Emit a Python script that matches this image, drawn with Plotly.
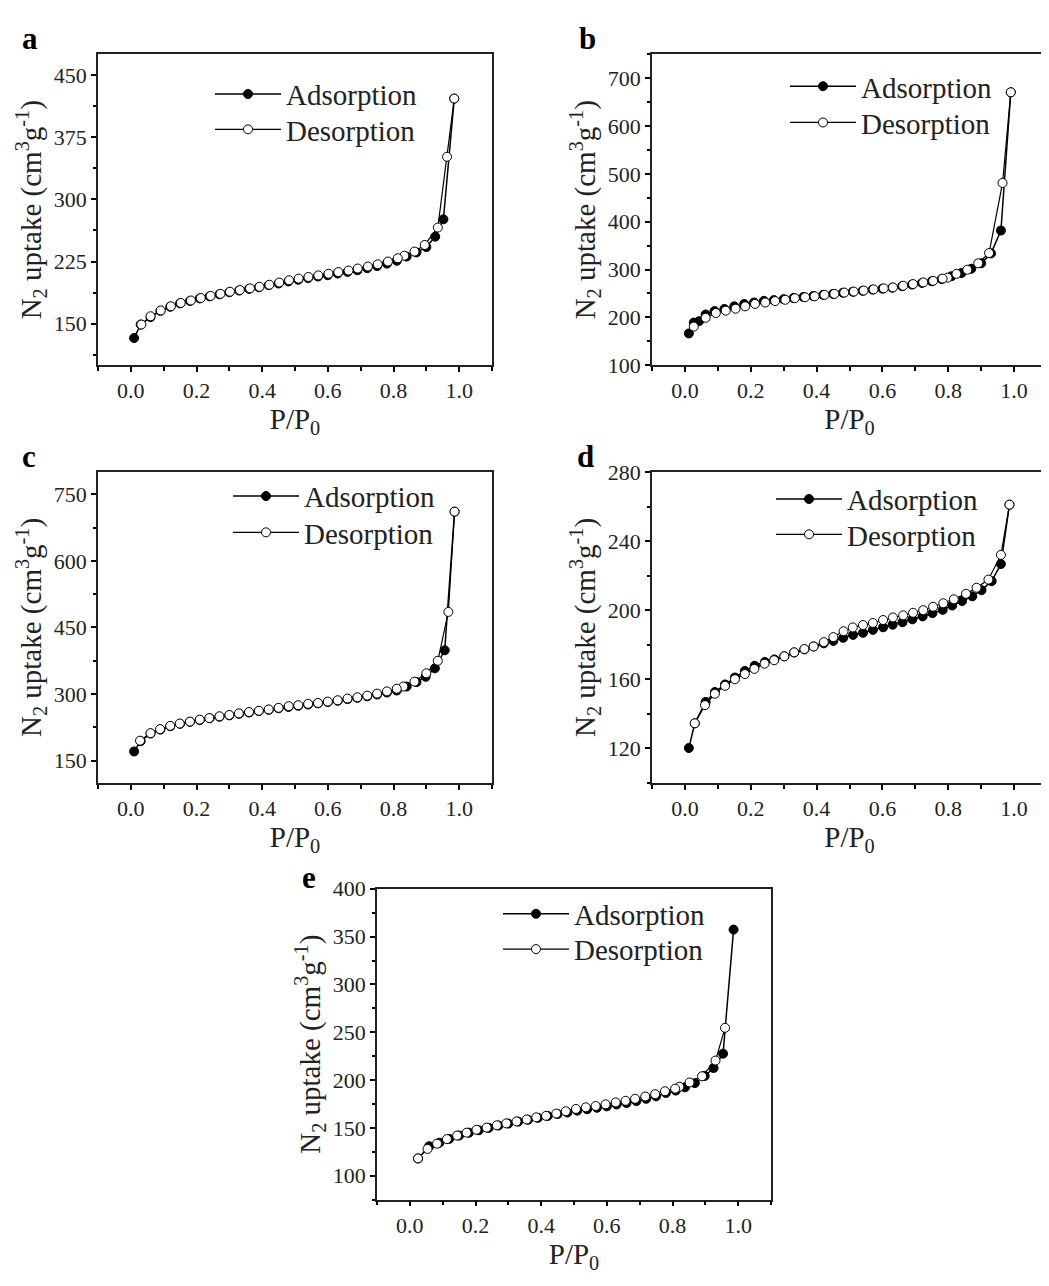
import plotly.graph_objects as go

W, H = 1049, 1286
OFF = 8  # the page body adds an 8px margin, so shift everything back by it
FONT = 'Liberation Serif'

# ---- data (P/P0, N2 uptake in cm3/g) ----
a_ads_x = [0.01, 0.03, 0.06, 0.09, 0.12, 0.15, 0.18, 0.21, 0.24, 0.27, 0.30, 0.33, 0.36, 0.39, 0.42, 0.45, 0.48,
           0.51, 0.54, 0.57, 0.60, 0.63, 0.66, 0.69, 0.72, 0.75, 0.78, 0.81, 0.84, 0.87, 0.90, 0.927, 0.952, 0.985]
a_ads_y = [132.7, 149, 158, 165.5, 170.5, 174.5, 177.5, 180.5, 183, 185.5, 188, 190, 192, 194, 196.5, 198.5, 201,
           203, 205, 207, 208.5, 210.5, 212.5, 214.5, 217, 219.5, 222.5, 226, 231, 236, 242.5, 255, 276, 421.6]
a_des_x = [0.985, 0.963, 0.935, 0.895, 0.864, 0.833, 0.813, 0.783, 0.752, 0.722, 0.691, 0.663, 0.632, 0.602, 0.571,
           0.541, 0.511, 0.482, 0.452, 0.422, 0.392, 0.363, 0.332, 0.302, 0.273, 0.243, 0.213, 0.183, 0.152, 0.122,
           0.091, 0.060, 0.032]
a_des_y = [421.6, 351.4, 266, 245, 237, 232, 229, 225, 221.7, 219, 216.6, 214.2, 212.3, 210.3, 208.3, 206.4, 204.4,
           202.4, 199.7, 197, 194.5, 192.6, 190.6, 188.6, 186, 183.5, 181, 178, 175, 171, 166, 159, 149]

b_ads_x = [0.012, 0.027, 0.043, 0.063, 0.09, 0.12, 0.15, 0.18, 0.21, 0.24, 0.27, 0.30, 0.33, 0.36, 0.39, 0.42, 0.45,
           0.48, 0.51, 0.54, 0.57, 0.60, 0.63, 0.66, 0.69, 0.72, 0.75, 0.78, 0.81, 0.84, 0.87, 0.90, 0.93, 0.96, 0.99]
b_ads_y = [166.3, 189, 192, 206, 213, 217.5, 223, 228, 231, 234.5, 236, 238, 240.5, 242.5, 244.5, 247, 249, 251.5,
           253.5, 255.5, 258, 260, 262, 265, 268.5, 272, 275.5, 280, 286, 292.7, 301.6, 313, 333.7, 381.5, 670.6]
b_des_x = [0.99, 0.965, 0.924, 0.891, 0.858, 0.825, 0.798, 0.783, 0.754, 0.724, 0.693, 0.663, 0.632, 0.604, 0.573,
           0.543, 0.513, 0.484, 0.454, 0.424, 0.394, 0.365, 0.334, 0.305, 0.274, 0.244, 0.213, 0.183, 0.154, 0.124,
           0.094, 0.063, 0.027]
b_des_y = [670.6, 481, 334.4, 313, 299.5, 291, 283, 281, 276.3, 273, 269.5, 266, 262.6, 260.6, 258.5, 256, 253.8,
           251.7, 249, 247, 244, 242, 240, 236.7, 234, 231, 228, 223, 218, 214, 209, 199, 180.6]

c_ads_x = [0.01, 0.03, 0.06, 0.09, 0.12, 0.15, 0.18, 0.21, 0.24, 0.27, 0.30, 0.33, 0.36, 0.39, 0.42, 0.45, 0.48,
           0.51, 0.54, 0.57, 0.60, 0.63, 0.66, 0.69, 0.72, 0.75, 0.78, 0.81, 0.84, 0.87, 0.898, 0.926, 0.956, 0.986]
c_ads_y = [170.7, 194, 211, 220, 227.5, 233, 237.5, 241.5, 245.5, 249, 252, 255.5, 258.5, 261.5, 264.5, 268, 271,
           273.5, 276.5, 279, 282, 285, 288.5, 291.5, 295, 299, 303.5, 308, 317, 327, 339, 358, 398.6, 710.8]
c_des_x = [0.986, 0.967, 0.935, 0.90, 0.864, 0.83, 0.81, 0.78, 0.75, 0.72, 0.69, 0.66, 0.63, 0.60, 0.57, 0.54,
           0.51, 0.481, 0.45, 0.42, 0.39, 0.36, 0.329, 0.30, 0.27, 0.239, 0.21, 0.18, 0.149, 0.12, 0.089, 0.06, 0.028]
c_des_y = [710.8, 485, 375, 346.8, 328, 317, 312, 306, 301, 296.5, 292.8, 290, 286, 283, 280, 278, 275, 272.8,
           269, 265.4, 262.5, 259.5, 256.5, 253, 250, 246, 242.5, 238, 233.6, 228.4, 221, 212, 195]

d_ads_x = [0.012, 0.03, 0.063, 0.091, 0.122, 0.152, 0.182, 0.212, 0.243, 0.272, 0.302, 0.332, 0.363, 0.391, 0.422,
           0.451, 0.481, 0.511, 0.541, 0.571, 0.602, 0.631, 0.661, 0.691, 0.722, 0.752, 0.783, 0.812, 0.842, 0.873,
           0.901, 0.932, 0.96, 0.986]
d_ads_y = [120.2, 134.5, 146.9, 152.6, 157, 161, 164.8, 167.8, 170, 171.5, 173.3, 175.5, 177.3, 179, 180.8, 182.2,
           184, 185.7, 186.9, 188.6, 190.1, 191.6, 193, 194.7, 196.4, 198.3, 200.2, 202.7, 205.3, 208, 211.6, 216.8,
           226.7, 261.1]
d_des_x = [0.986, 0.96, 0.922, 0.886, 0.854, 0.817, 0.785, 0.754, 0.724, 0.693, 0.663, 0.632, 0.602, 0.571, 0.541,
           0.51, 0.482, 0.451, 0.422, 0.391, 0.363, 0.332, 0.302, 0.271, 0.242, 0.211, 0.182, 0.152, 0.122, 0.091,
           0.061, 0.03]
d_des_y = [261.1, 232, 217.7, 213, 209.5, 206.3, 204, 202, 200, 198.5, 197, 195.8, 194.3, 192.6, 191.4, 190, 187.8,
           184.4, 181.5, 179, 177.5, 175.6, 173.3, 171, 169, 166, 163, 160, 156.2, 151.6, 145, 134.5]

e_ads_x = [0.025, 0.059, 0.09, 0.12, 0.15, 0.18, 0.21, 0.24, 0.27, 0.30, 0.33, 0.36, 0.39, 0.42, 0.45, 0.48, 0.51,
           0.54, 0.57, 0.60, 0.63, 0.66, 0.69, 0.72, 0.75, 0.78, 0.81, 0.838, 0.868, 0.898, 0.925, 0.954, 0.986]
e_ads_y = [118, 130.8, 134.5, 138.5, 142, 145, 147.5, 150, 152.5, 154.5, 156.5, 158.5, 160.5, 162.5, 164.5, 166,
           168, 169.5, 171, 172.5, 174.5, 176, 178, 180.4, 183, 186.5, 189, 192.4, 196.8, 204.3, 212.6, 227.6, 357.3]
e_des_x = [0.96, 0.931, 0.89, 0.852, 0.821, 0.808, 0.777, 0.747, 0.717, 0.686, 0.657, 0.627, 0.596, 0.566, 0.536,
           0.506, 0.475, 0.446, 0.415, 0.385, 0.356, 0.325, 0.294, 0.265, 0.234, 0.203, 0.173, 0.144, 0.113, 0.083,
           0.054, 0.025]
e_des_y = [254.6, 220.4, 204, 197.5, 193, 191, 188.3, 185.2, 182.8, 180.4, 178.3, 176.6, 174.6, 172.9, 171.5, 169.8,
           167.4, 165, 162.6, 161, 158.8, 156.8, 154.7, 152.7, 150.3, 148, 145, 142, 138.3, 133.5, 128, 118.1]

panel_labels = ['a', 'b', 'c', 'd', 'e']
series_names = ['Adsorption', 'Desorption']
y_ranges = [[100, 475], [100, 750], [100, 800], [100, 280], [75, 400]]
y_tick0 = [150, 100, 150, 120, 100]
y_dtick = [75, 100, 150, 40, 50]
x_range = [-0.1, 1.1]

series = [
    (a_ads_x, a_ads_y, a_des_x, a_des_y),
    (b_ads_x, b_ads_y, b_des_x, b_des_y),
    (c_ads_x, c_ads_y, c_des_x, c_des_y),
    (d_ads_x, d_ads_y, d_des_x, d_des_y),
    (e_ads_x, e_ads_y, e_des_x, e_des_y),
]

# plot boxes in screen pixels: left, right, top, bottom
boxes = [
    (98, 492, 43, 360),
    (652, 1047, 43, 360),
    (98, 492, 469, 786),
    (652, 1047, 469, 786),
    (377, 771, 894, 1211),
]
# legend: line start x, centre y of the two rows (screen pixels)
legend_pos = [(215, 83, 119), (790, 75, 112), (233, 493, 530), (776, 496, 532), (503, 919, 955)]
# panel letter centres, screen pixels
letter_pos = [(30, 27), (587, 27), (29, 453), (585, 453), (309, 883)]

LEG_FONT = 29
LEG_HALF = LEG_FONT * 1.3 / 2 + 1.5 + 5  # distance from legend top to first item centre


def px_x(v):
    return (v - OFF) / W


def px_y(v):
    return 1 - (v - OFF) / H


fig = go.Figure()
layout = dict(
    width=W, height=H, autosize=False,
    margin=dict(l=0, r=0, t=0, b=0),
    paper_bgcolor='white', plot_bgcolor='white',
    font=dict(family=FONT, color='black'),
    annotations=[],
)

for i in range(5):
    n = '' if i == 0 else str(i + 1)
    ax_x, ax_y = 'x' + n, 'y' + n
    # one legend per entry so each row can be placed on its own
    leg_ads = 'legend' + str(i + 2)
    leg_des = 'legend' + str(i + 7)
    ads_x, ads_y, des_x, des_y = series[i]

    fig.add_trace(go.Scatter(
        x=ads_x, y=ads_y, xaxis=ax_x, yaxis=ax_y, legend=leg_ads,
        name=series_names[0], mode='lines+markers',
        line=dict(color='black', width=1.5),
        marker=dict(symbol='circle', size=9, color='black', line=dict(color='black', width=1)),
    ))
    fig.add_trace(go.Scatter(
        x=des_x, y=des_y, xaxis=ax_x, yaxis=ax_y, legend=leg_des,
        name=series_names[1], mode='lines+markers',
        line=dict(color='black', width=1.2),
        marker=dict(symbol='circle', size=9, color='white', line=dict(color='black', width=1)),
    ))

    left, right, top, bottom = boxes[i]
    layout['xaxis' + n] = dict(
        domain=[px_x(left), px_x(right)], anchor=ax_y,
        range=x_range, tick0=0, dtick=0.2, tickformat='.1f',
        ticks='outside', ticklen=5, tickwidth=1.5, tickcolor='black',
        minor=dict(dtick=0.1, ticks='outside', ticklen=4, tickwidth=1.5, tickcolor='black'),
        showline=True, linewidth=1.5, linecolor='#222', mirror=True,
        showgrid=False, zeroline=False,
        tickfont=dict(family=FONT, size=22, color='#222'),
        title=dict(text='P/P<sub>0</sub>', font=dict(family=FONT, size=29, color='#222'), standoff=5),
    )
    layout['yaxis' + n] = dict(
        domain=[px_y(bottom), px_y(top)], anchor=ax_x,
        range=y_ranges[i], tick0=y_tick0[i], dtick=y_dtick[i],
        ticks='outside', ticklen=5, tickwidth=1.5, tickcolor='black',
        minor=dict(dtick=y_dtick[i] / 2, ticks='outside', ticklen=3, tickwidth=1.5, tickcolor='black'),
        showline=True, linewidth=1.5, linecolor='#222', mirror=True,
        showgrid=False, zeroline=False,
        tickfont=dict(family=FONT, size=22, color='#222'),
        title=dict(text='N<sub>2</sub> uptake (cm<sup>3</sup>g<sup>-1</sup>)',
                   font=dict(family=FONT, size=29, color='#222'), standoff=4),
    )

    lx, row1, row2 = legend_pos[i]
    for leg, row in ((leg_ads, row1), (leg_des, row2)):
        layout[leg] = dict(
            x=px_x(lx - 5), y=px_y(row - LEG_HALF), xanchor='left', yanchor='top',
            bgcolor='rgba(0,0,0,0)', borderwidth=0,
            font=dict(family=FONT, size=LEG_FONT, color='#222'),
            itemwidth=66,
        )

    tx, ty = letter_pos[i]
    layout['annotations'].append(dict(
        text='<b>' + panel_labels[i] + '</b>', x=px_x(tx), y=px_y(ty),
        xref='paper', yref='paper', xanchor='center', yanchor='middle',
        showarrow=False, font=dict(family=FONT, size=31, color='black'),
    ))

fig.update_layout(**layout)
fig.write_html('out.html')
